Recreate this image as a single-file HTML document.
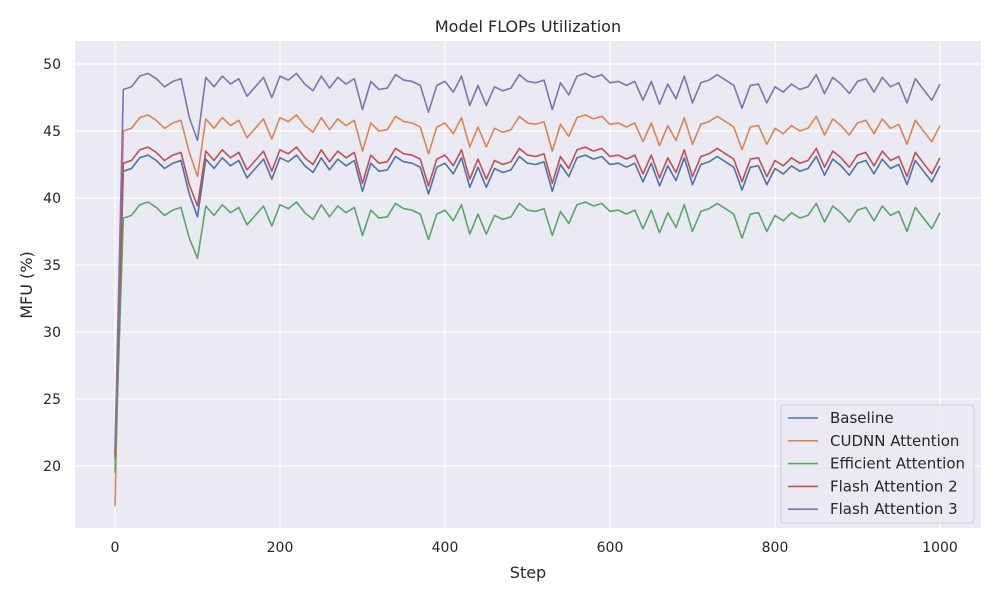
<!DOCTYPE html>
<html><head><meta charset="utf-8"><style>
body{margin:0;background:#fff;}
svg text{font-family:"DejaVu Sans","Liberation Sans",sans-serif;fill:#262626;}
</style></head><body>
<svg id="chart" width="1000" height="600">
<rect x="75" y="41" width="906" height="487" fill="#eaeaf2"/>
<g id="grid"></g><g id="ticks"></g><g id="series"></g>
<text x="528" y="32" text-anchor="middle" font-size="16">Model FLOPs Utilization</text>
<text x="528" y="578" text-anchor="middle" font-size="16">Step</text>
<text x="32" y="285" text-anchor="middle" font-size="16" transform="rotate(-90 32 285)">MFU (%)</text>
<g id="legend"></g>
</svg>
<script>
const seriesNames=["Baseline","CUDNN Attention","Efficient Attention","Flash Attention 2","Flash Attention 3"];
const colors=["#4c72b0","#dd8452","#55a868","#c44e52","#8172b3"];
const xTicks=[0,200,400,600,800,1000];
const yTicks=[20,25,30,35,40,45,50];
const baseline=[20.5,42.0,42.2,43.0,43.2,42.8,42.2,42.6,42.8,40.3,38.6,42.9,42.2,43.0,42.4,42.8,41.5,42.2,42.9,41.4,43.0,42.7,43.2,42.4,41.9,43.0,42.1,42.9,42.4,42.8,40.5,42.6,42.0,42.1,43.1,42.7,42.6,42.3,40.3,42.3,42.6,41.8,43.0,40.8,42.3,40.8,42.2,41.9,42.1,43.1,42.6,42.5,42.7,40.5,42.5,41.6,43.0,43.2,42.9,43.1,42.5,42.6,42.3,42.6,41.2,42.6,40.9,42.4,41.3,43.0,41.0,42.5,42.7,43.1,42.7,42.3,40.6,42.3,42.4,41.0,42.2,41.8,42.4,42.0,42.2,43.1,41.7,42.9,42.4,41.7,42.6,42.8,41.8,42.9,42.2,42.5,41.0,42.8,42.0,41.2,42.4];
const cudnn=[17.0,45.0,45.2,46.0,46.2,45.8,45.2,45.6,45.8,43.4,41.6,45.9,45.2,46.0,45.4,45.8,44.5,45.2,45.9,44.4,46.0,45.7,46.2,45.4,44.9,46.0,45.1,45.9,45.4,45.8,43.5,45.6,45.0,45.1,46.1,45.7,45.6,45.3,43.3,45.3,45.6,44.8,46.0,43.8,45.3,43.8,45.2,44.9,45.1,46.1,45.6,45.5,45.7,43.5,45.5,44.6,46.0,46.2,45.9,46.1,45.5,45.6,45.3,45.6,44.2,45.6,43.9,45.4,44.3,46.0,44.0,45.5,45.7,46.1,45.7,45.3,43.6,45.3,45.4,44.0,45.2,44.8,45.4,45.0,45.2,46.1,44.7,45.9,45.4,44.7,45.6,45.8,44.8,45.9,45.2,45.5,44.0,45.8,45.0,44.2,45.4];
const efficient=[19.5,38.5,38.7,39.5,39.7,39.3,38.7,39.1,39.3,37.0,35.5,39.4,38.7,39.5,38.9,39.3,38.0,38.7,39.4,37.9,39.5,39.2,39.7,38.9,38.4,39.5,38.6,39.4,38.9,39.3,37.2,39.1,38.5,38.6,39.6,39.2,39.1,38.8,36.9,38.8,39.1,38.3,39.5,37.3,38.8,37.3,38.7,38.4,38.6,39.6,39.1,39.0,39.2,37.2,39.0,38.1,39.5,39.7,39.4,39.6,39.0,39.1,38.8,39.1,37.7,39.1,37.4,38.9,37.8,39.5,37.5,39.0,39.2,39.6,39.2,38.8,37.0,38.8,38.9,37.5,38.7,38.3,38.9,38.5,38.7,39.6,38.2,39.4,38.9,38.2,39.1,39.3,38.3,39.4,38.7,39.0,37.5,39.3,38.5,37.7,38.9];
const flash2=[20.8,42.6,42.8,43.6,43.8,43.4,42.8,43.2,43.4,41.0,39.4,43.5,42.8,43.6,43.0,43.4,42.1,42.8,43.5,42.0,43.6,43.3,43.8,43.0,42.5,43.6,42.7,43.5,43.0,43.4,41.1,43.2,42.6,42.7,43.7,43.3,43.2,42.9,40.9,42.9,43.2,42.4,43.6,41.4,42.9,41.4,42.8,42.5,42.7,43.7,43.2,43.1,43.3,41.1,43.1,42.2,43.6,43.8,43.5,43.7,43.1,43.2,42.9,43.2,41.8,43.2,41.5,43.0,41.9,43.6,41.6,43.1,43.3,43.7,43.3,42.9,41.2,42.9,43.0,41.6,42.8,42.4,43.0,42.6,42.8,43.7,42.3,43.5,43.0,42.3,43.2,43.4,42.4,43.5,42.8,43.1,41.6,43.4,42.6,41.8,43.0];
const flash3=[21.2,48.1,48.3,49.1,49.3,48.9,48.3,48.7,48.9,46.0,44.3,49.0,48.3,49.1,48.5,48.9,47.6,48.3,49.0,47.5,49.1,48.8,49.3,48.5,48.0,49.1,48.2,49.0,48.5,48.9,46.6,48.7,48.1,48.2,49.2,48.8,48.7,48.4,46.4,48.4,48.7,47.9,49.1,46.9,48.4,46.9,48.3,48.0,48.2,49.2,48.7,48.6,48.8,46.6,48.6,47.7,49.1,49.3,49.0,49.2,48.6,48.7,48.4,48.7,47.3,48.7,47.0,48.5,47.4,49.1,47.1,48.6,48.8,49.2,48.8,48.4,46.7,48.4,48.5,47.1,48.3,47.9,48.5,48.1,48.3,49.2,47.8,49.0,48.5,47.8,48.7,48.9,47.9,49.0,48.3,48.6,47.1,48.9,48.1,47.3,48.5];
const allSeries=[baseline,cudnn,efficient,flash2,flash3];
const stepSize=10;

const NS="http://www.w3.org/2000/svg";
function X(v){return 115+(v/1000)*825;}
function Y(v){return 64+(50-v)*13.4;}
function mk(tag,attrs,parent){const e=document.createElementNS(NS,tag);for(const k in attrs)e.setAttribute(k,attrs[k]);parent.appendChild(e);return e;}
const grid=document.getElementById('grid'),ticks=document.getElementById('ticks');
xTicks.forEach(t=>{
  const l=mk('line',{x1:X(t),x2:X(t),y1:41,y2:528,stroke:'#fff','stroke-width':1.2},grid);
  
  
  const tx=mk('text',{x:X(t),y:552,'text-anchor':'middle','font-size':14},ticks);
  tx.textContent=t;
  
  
});
yTicks.forEach(t=>{
  const l=mk('line',{x1:75,x2:981,y1:Y(t),y2:Y(t),stroke:'#fff','stroke-width':1.2},grid);
  
  
  const tx=mk('text',{x:61,y:Y(t)+5,'text-anchor':'end','font-size':14},ticks);
  tx.textContent=t;
  
  
});
const sg=document.getElementById('series');
allSeries.forEach((arr,si)=>{
  const pts=arr.map((v,i)=>X(i*stepSize).toFixed(1)+','+Y(v).toFixed(1)).join(' ');
  const p=mk('polyline',{points:pts,fill:'none',stroke:colors[si],'stroke-width':1.6,'stroke-linejoin':'round'},sg);
  
  
});
const lg=document.getElementById('legend');
const box=mk('rect',{x:781,y:405,width:193,height:118,rx:3,fill:'#eaeaf2',stroke:'#ccc','fill-opacity':0.8},lg);


seriesNames.forEach((n,i)=>{
  const y=418+i*22.8;
  const l=mk('line',{x1:788,x2:818,y1:y,y2:y,stroke:colors[i],'stroke-width':1.6},lg);
  
  
  const t=mk('text',{x:830,y:y+5,'font-size':15},lg);
  t.textContent=n;
  
  
});
</script>
</body></html>
